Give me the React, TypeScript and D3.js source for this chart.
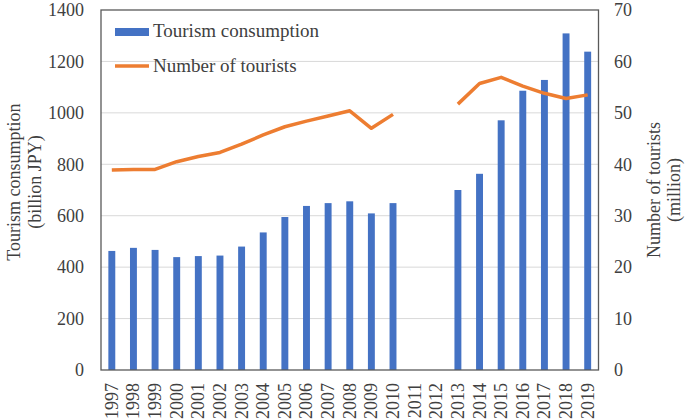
import { useEffect, useRef } from "react"
import * as d3 from "d3"

const years = [
  "1997", "1998", "1999", "2000", "2001", "2002", "2003", "2004", "2005", "2006", "2007", "2008",
  "2009", "2010", "2011", "2012", "2013", "2014", "2015", "2016", "2017", "2018", "2019",
]

// billion JPY, null = no data
const consumption: (number | null)[] = [
  463, 475, 467, 439, 443, 445, 480, 535, 595, 638, 649, 656,
  609, 649, null, null, 700, 763, 971, 1086, 1128, 1309, 1238,
]

// million people
const tourists: (number | null)[] = [
  38.9, 39.0, 39.0, 40.5, 41.5, 42.3, 43.9, 45.7, 47.3, 48.4, 49.4, 50.4,
  47.0, 49.7, null, null, 51.7, 55.7, 56.9, 55.2, 53.8, 52.8, 53.5,
]

const leftTicks = [0, 200, 400, 600, 800, 1000, 1200, 1400]
const rightTicks = [0, 10, 20, 30, 40, 50, 60, 70]

const W = 685
const H = 420
const FONT = "'Liberation Serif', 'Times New Roman', serif"

export default function App() {
  const svgRef = useRef<SVGSVGElement>(null)

  useEffect(() => {
    if (!svgRef.current) return
    d3.select(svgRef.current).selectAll("*").remove()

    const plot = { left: 101, right: 598.5, top: 10, bottom: 370 }

    const svg = d3.select(svgRef.current)
      .attr("width", W)
      .attr("height", H)
      .style("font-family", FONT)

    const x = d3.scaleBand<string>()
      .domain(years)
      .range([plot.left, plot.right])
      .paddingInner(0.68)
      .paddingOuter(0.34)

    const yL = d3.scaleLinear().domain([0, 1400]).range([plot.bottom, plot.top])
    const yR = d3.scaleLinear().domain([0, 70]).range([plot.bottom, plot.top])

    // gridlines
    svg.append("g")
      .selectAll("line")
      .data(leftTicks.filter(t => t > 0 && t < 1400))
      .enter()
      .append("line")
      .attr("x1", plot.left)
      .attr("x2", plot.right)
      .attr("y1", d => yL(d))
      .attr("y2", d => yL(d))
      .attr("stroke", "#d9d9d9")
      .attr("stroke-width", 1)

    // bars
    const barData = years.map((yr, i) => ({ yr, v: consumption[i] })).filter(d => d.v != null)
    svg.append("g")
      .selectAll("rect")
      .data(barData)
      .enter()
      .append("rect")
      .attr("x", d => x(d.yr)!)
      .attr("width", x.bandwidth())
      .attr("y", d => yL(d.v as number))
      .attr("height", d => plot.bottom - yL(d.v as number))
      .attr("fill", "#4472c4")

    // tourists line
    const line = d3.line<number | null>()
      .defined(d => d != null)
      .x((_, i) => x(years[i])! + x.bandwidth() / 2)
      .y(d => yR(d as number))

    svg.append("path")
      .datum(tourists)
      .attr("fill", "none")
      .attr("stroke", "#ed7d31")
      .attr("stroke-width", 3.5)
      .attr("stroke-linejoin", "round")
      .attr("d", line)

    // frame
    svg.append("rect")
      .attr("x", plot.left)
      .attr("y", plot.top)
      .attr("width", plot.right - plot.left)
      .attr("height", plot.bottom - plot.top)
      .attr("fill", "none")
      .attr("stroke", "#595959")
      .attr("stroke-width", 1.3)

    // left tick labels
    svg.append("g")
      .selectAll("text")
      .data(leftTicks)
      .enter()
      .append("text")
      .attr("x", 84)
      .attr("y", d => yL(d))
      .attr("dy", "0.35em")
      .attr("text-anchor", "end")
      .style("font-size", "18px")
      .attr("fill", "#404040")
      .text(d => d)

    // right tick labels
    svg.append("g")
      .selectAll("text")
      .data(rightTicks)
      .enter()
      .append("text")
      .attr("x", 614)
      .attr("y", d => yR(d))
      .attr("dy", "0.35em")
      .style("font-size", "18px")
      .attr("fill", "#404040")
      .text(d => d)

    // year labels
    svg.append("g")
      .selectAll("text")
      .data(years)
      .enter()
      .append("text")
      .attr("transform", d => `translate(${x(d)! + x.bandwidth() / 2 + 6},383) rotate(-90)`)
      .attr("text-anchor", "end")
      .style("font-size", "18px")
      .attr("fill", "#404040")
      .text(d => d)

    // axis titles
    const leftTitle = svg.append("text")
      .attr("transform", "translate(20,182) rotate(-90)")
      .attr("text-anchor", "middle")
      .style("font-size", "18px")
      .attr("fill", "#404040")
    leftTitle.append("tspan").attr("x", 0).attr("y", 0).text("Tourism consumption")
    leftTitle.append("tspan").attr("x", 0).attr("y", 21).text("(billion JPY)")

    const rightTitle = svg.append("text")
      .attr("transform", "translate(660,190) rotate(-90)")
      .attr("text-anchor", "middle")
      .style("font-size", "18px")
      .attr("fill", "#404040")
    rightTitle.append("tspan").attr("x", 0).attr("y", 0).text("Number of tourists")
    rightTitle.append("tspan").attr("x", 0).attr("y", 20).text("(million)")

    // legend
    svg.append("rect")
      .attr("x", 115).attr("y", 28).attr("width", 34).attr("height", 8)
      .attr("fill", "#4472c4")
    svg.append("text")
      .attr("x", 153).attr("y", 37)
      .style("font-size", "19px")
      .attr("fill", "#404040")
      .text("Tourism consumption")

    svg.append("line")
      .attr("x1", 115).attr("x2", 149).attr("y1", 66).attr("y2", 66)
      .attr("stroke", "#ed7d31").attr("stroke-width", 3.5)
    svg.append("text")
      .attr("x", 153).attr("y", 72)
      .style("font-size", "19px")
      .attr("fill", "#404040")
      .text("Number of tourists")
  }, [])

  return (
    <div style={{ position: "absolute", left: 0, top: 0, width: W, height: H, background: "#fff" }}>
      <svg ref={svgRef} style={{ display: "block" }} />
    </div>
  )
}
